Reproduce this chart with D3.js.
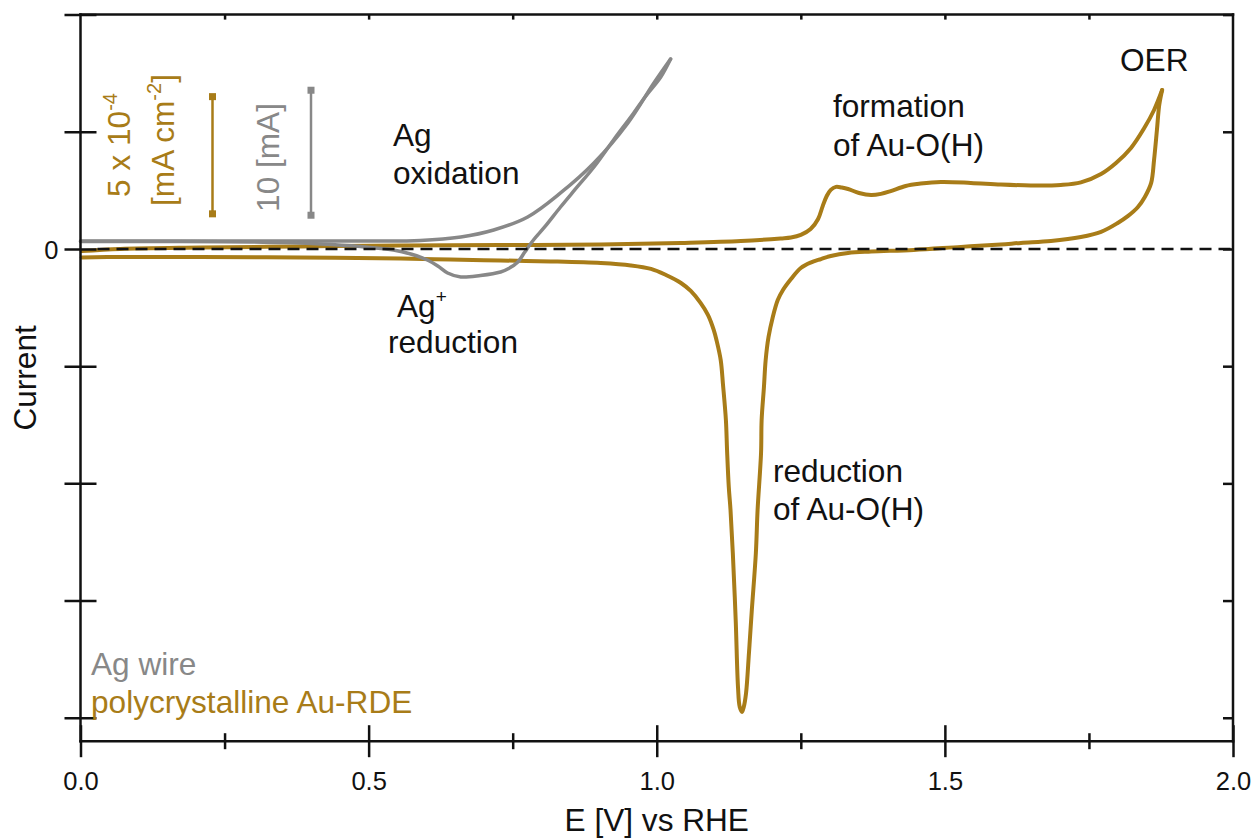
<!DOCTYPE html>
<html>
<head>
<meta charset="utf-8">
<script src="https://cdn.jsdelivr.net/npm/d3@7"></script>
<style>
  html, body { margin: 0; padding: 0; background: #fff; }
  svg { display: block; font-family: "Liberation Sans", Arial, Helvetica, sans-serif; }
</style>
</head>
<body>
<svg id="chart" width="1257" height="838"></svg>
<script>
// ---- Data -------------------------------------------------------------
// Polycrystalline Au-RDE, current density in units of 1e-4 mA cm^-2
const auAnodicE = [0.002, 0.069, 0.208, 0.382, 0.556, 0.729, 0.903, 1.042, 1.146, 1.215, 1.233, 1.250,
  1.267, 1.280, 1.288, 1.295, 1.302, 1.311, 1.321, 1.332, 1.351, 1.372, 1.389, 1.406, 1.432, 1.458,
  1.493, 1.545, 1.597, 1.649, 1.701, 1.736, 1.771, 1.797, 1.823, 1.846, 1.863, 1.877];
const auAnodicI = [-0.09, 0.00, 0.06, 0.11, 0.15, 0.17, 0.19, 0.26, 0.34, 0.45, 0.49, 0.60,
  0.85, 1.28, 1.83, 2.26, 2.52, 2.65, 2.62, 2.56, 2.39, 2.30, 2.35, 2.47, 2.69, 2.79,
  2.86, 2.82, 2.75, 2.71, 2.73, 2.84, 3.20, 3.67, 4.31, 5.16, 5.93, 6.78];

const auCathodicE = [1.877, 1.872, 1.868, 1.863, 1.858, 1.847, 1.835, 1.818, 1.800, 1.771, 1.736, 1.684,
  1.632, 1.597, 1.528, 1.446, 1.372, 1.332, 1.302, 1.285, 1.267, 1.250, 1.233, 1.219, 1.210, 1.201,
  1.194, 1.189, 1.186, 1.182, 1.181, 1.175, 1.172, 1.165, 1.160, 1.155, 1.151, 1.148, 1.144, 1.141,
  1.137, 1.132, 1.128, 1.125, 1.122, 1.120, 1.115, 1.111, 1.104, 1.099, 1.089, 1.076, 1.059, 1.042,
  1.016, 0.990, 0.955, 0.903, 0.816, 0.729, 0.642, 0.556, 0.382, 0.208, 0.069, 0.002];
const auCathodicI = [6.78, 6.14, 5.08, 3.80, 2.82, 2.22, 1.79, 1.41, 1.11, 0.73, 0.51, 0.34,
  0.26, 0.19, 0.09, -0.04, -0.11, -0.17, -0.30, -0.43, -0.58, -0.81, -1.28, -1.75, -2.18, -2.94,
  -3.75, -4.74, -5.89, -7.30, -8.70, -11.13, -12.97, -15.40, -17.24, -18.94, -19.54, -19.75, -19.54, -18.69,
  -15.83, -12.97, -11.13, -10.15, -8.58, -7.30, -5.80, -4.74, -3.92, -3.46, -2.82, -2.30, -1.79, -1.45,
  -1.11, -0.85, -0.70, -0.60, -0.53, -0.49, -0.45, -0.41, -0.36, -0.34, -0.34, -0.36];

// Ag wire, current in mA
const agAnodicE = [0.000, 0.295, 0.486, 0.590, 0.660, 0.717, 0.776, 0.833, 0.891, 0.950, 0.995, 1.024];
const agAnodicI = [0.64, 0.64, 0.64, 0.68, 0.96, 1.52, 2.56, 4.48, 6.88, 10.08, 13.28, 15.20];

const agCathodicE = [1.024, 1.007, 0.981, 0.960, 0.925, 0.891, 0.859, 0.833, 0.807, 0.786, 0.771, 0.759,
  0.743, 0.729, 0.694, 0.660, 0.637, 0.620, 0.602, 0.573, 0.543, 0.486, 0.417, 0.295, 0.139, 0.000];
const agCathodicI = [15.20, 13.76, 12.24, 10.88, 8.72, 6.56, 4.80, 3.36, 1.84, 0.72, -0.24, -1.04,
  -1.56, -1.84, -2.12, -2.24, -1.92, -1.36, -0.88, -0.40, -0.08, 0.20, 0.40, 0.56, 0.60, 0.60];

// Axis ticks
const xMajorTicks = [0.0, 0.5, 1.0, 1.5, 2.0];
const xMinorTicks = [0.25, 0.75, 1.25, 1.75];
const yTicks = [-20, -15, -10, -5, 0, 5, 10];
const yTickLabels = { 0: "0" };

// Scale bar sizes
const auBar = { from: 1.5, size: 5 };    // 5 x 1e-4 mA cm^-2
const agBar = { from: 2.7, size: 10 };   // 10 mA
const agPerAuUnit = 1.875;                // mA shown per 1e-4 mA cm^-2 of height

// ---- Drawing ----------------------------------------------------------
const GOLD = "#a87c18";
const GREY = "#888888";
const INK = "#111";
const FS = 31.6;     // annotation / title size
const TICK_FS = 25.5;

const svg = d3.select("#chart");
const plotL = 80.5, plotR = 1233, plotT = 14.6, plotB = 741.2;

const x = d3.scaleLinear().domain([0, 2]).range([plotL, plotR]);
const y = d3.scaleLinear().domain([-21, 10]).range([plotB, plotT]);
const yAg = d3.scaleLinear().domain(y.domain().map(v => v * agPerAuUnit)).range(y.range());

const zip = (a, b) => a.map((v, i) => [v, b[i]]);
const auLine = d3.line().x(d => x(d[0])).y(d => y(d[1])).curve(d3.curveCatmullRom.alpha(0.5));
const agLine = d3.line().x(d => x(d[0])).y(d => yAg(d[1])).curve(d3.curveCatmullRom.alpha(0.5));

// Au CV
const auG = svg.append("g").attr("fill", "none").attr("stroke", GOLD).attr("stroke-width", 4)
  .attr("stroke-linejoin", "round").attr("stroke-linecap", "round");
auG.append("path").attr("d", auLine(zip(auAnodicE, auAnodicI)));
auG.append("path").attr("d", auLine(zip(auCathodicE, auCathodicI)));

// Ag CV
const agG = svg.append("g").attr("fill", "none").attr("stroke", GREY).attr("stroke-width", 3.5)
  .attr("stroke-linejoin", "round").attr("stroke-linecap", "round");
agG.append("path").attr("d", agLine(zip(agAnodicE, agAnodicI)));
agG.append("path").attr("d", agLine(zip(agCathodicE, agCathodicI)));

// zero current reference
svg.append("line")
  .attr("x1", x(0) + 17).attr("x2", x(2) - 2)
  .attr("y1", y(0)).attr("y2", y(0))
  .attr("stroke", INK).attr("stroke-width", 2.5).attr("stroke-dasharray", "12,7");

// ---- Axes -------------------------------------------------------------
const axW = 2.5;

// bottom axis
const xAxis = svg.append("g").attr("transform", `translate(0,${plotB})`)
  .call(d3.axisBottom(x).tickValues(xMajorTicks).tickSize(16).tickPadding(0).tickFormat(d3.format(".1f")));
xAxis.select(".domain").remove();
xAxis.selectAll(".tick line").attr("y1", -16).attr("y2", 16).attr("stroke", INK).attr("stroke-width", axW);
xAxis.selectAll(".tick text").attr("y", 49).attr("dy", null).attr("fill", INK)
  .attr("font-size", TICK_FS).attr("font-family", "Liberation Sans, Arial, sans-serif");
const xMinor = svg.append("g").attr("transform", `translate(0,${plotB})`)
  .call(d3.axisBottom(x).tickValues(xMinorTicks).tickSize(8).tickFormat(""));
xMinor.select(".domain").remove();
xMinor.selectAll(".tick line").attr("y1", -8).attr("y2", 8).attr("stroke", INK).attr("stroke-width", axW);

// top axis
const xTop = svg.append("g").attr("transform", `translate(0,${plotT})`)
  .call(d3.axisBottom(x).tickValues(xMinorTicks.concat([0.5, 1.0, 1.5])).tickSize(5).tickFormat(""));
xTop.select(".domain").remove();
xTop.selectAll(".tick line").attr("stroke", INK).attr("stroke-width", axW);

// left axis
const yAxis = svg.append("g").attr("transform", `translate(${plotL},0)`)
  .call(d3.axisLeft(y).tickValues(yTicks).tickSize(16).tickPadding(6).tickFormat(d => yTickLabels[d] || ""));
yAxis.select(".domain").remove();
yAxis.selectAll(".tick line").attr("x1", -16).attr("x2", 16).attr("stroke", INK).attr("stroke-width", axW);
yAxis.selectAll(".tick text").attr("x", -22).attr("dy", "0.36em").attr("fill", INK)
  .attr("font-size", TICK_FS).attr("font-family", "Liberation Sans, Arial, sans-serif");

// right axis
const yRight = svg.append("g").attr("transform", `translate(${plotR},0)`)
  .call(d3.axisLeft(y).tickValues(yTicks).tickSize(10).tickFormat(""));
yRight.select(".domain").remove();
yRight.selectAll(".tick line").attr("x1", -10).attr("x2", 0).attr("stroke", INK).attr("stroke-width", axW);

// frame
const frame = svg.append("g").attr("stroke", INK).attr("stroke-width", axW).attr("stroke-linecap", "square");
frame.append("line").attr("x1", plotL).attr("x2", plotR).attr("y1", plotB).attr("y2", plotB);
frame.append("line").attr("x1", plotL).attr("x2", plotR).attr("y1", plotT).attr("y2", plotT);
frame.append("line").attr("x1", plotL).attr("x2", plotL).attr("y1", plotT).attr("y2", plotB);
frame.append("line").attr("x1", plotR).attr("x2", plotR).attr("y1", plotT).attr("y2", plotB);

// axis titles
svg.append("text").attr("x", (plotL + plotR) / 2).attr("y", 831)
  .attr("text-anchor", "middle").attr("font-size", FS).attr("fill", INK).text("E [V] vs RHE");
svg.append("text").attr("transform", `translate(36,${(plotT + plotB) / 2}) rotate(-90)`)
  .attr("text-anchor", "middle").attr("font-size", FS).attr("fill", INK).text("Current");

// ---- Scale bars -------------------------------------------------------
function scaleBar(xPos, y0, y1, color) {
  const g = svg.append("g");
  g.append("line").attr("x1", xPos).attr("x2", xPos).attr("y1", y0).attr("y2", y1)
    .attr("stroke", color).attr("stroke-width", 2.5);
  [y0, y1].forEach(v => g.append("rect").attr("x", xPos - 3.5).attr("y", v - 3.5)
    .attr("width", 7).attr("height", 7).attr("fill", color));
}
scaleBar(212.5, y(auBar.from), y(auBar.from + auBar.size), GOLD);
scaleBar(311, yAg(agBar.from), yAg(agBar.from + agBar.size), GREY);

// scale bar captions (vertical)
function vText(xBase, yc, color, parts) {
  const t = svg.append("text").attr("transform", `translate(${xBase},${yc}) rotate(-90)`)
    .attr("text-anchor", "middle").attr("font-size", FS).attr("fill", color);
  parts.forEach(p => {
    const s = t.append("tspan").text(p.t);
    if (p.sup) s.attr("font-size", 20).attr("dy", -13);
    if (p.after) s.attr("dy", 13);
  });
}
vText(130, 145, GOLD, [{ t: "5 x 10" }, { t: "-4", sup: true }]);
vText(174, 140, GOLD, [{ t: "[mA cm" }, { t: "-2", sup: true }, { t: "]", after: true }]);
vText(279, 157.5, GREY, [{ t: "10 [mA]" }]);

// ---- Annotations ------------------------------------------------------
function label(xPos, yPos, str, color) {
  return svg.append("text").attr("x", xPos).attr("y", yPos).attr("font-size", FS)
    .attr("fill", color || INK).text(str);
}
label(393, 146, "Ag");
label(393, 184, "oxidation");
const agp = label(397, 317, "Ag");
agp.append("tspan").attr("font-size", 19).attr("dy", -14).text("+");
label(388, 353, "reduction");
label(833, 117, "formation");
label(833, 156, "of Au-O(H)");
label(773, 482, "reduction");
label(773, 520, "of Au-O(H)");
label(1120, 71, "OER");

// legend
label(91, 675, "Ag wire", GREY);
label(91, 713, "polycrystalline Au-RDE", GOLD);
</script>
</body>
</html>
